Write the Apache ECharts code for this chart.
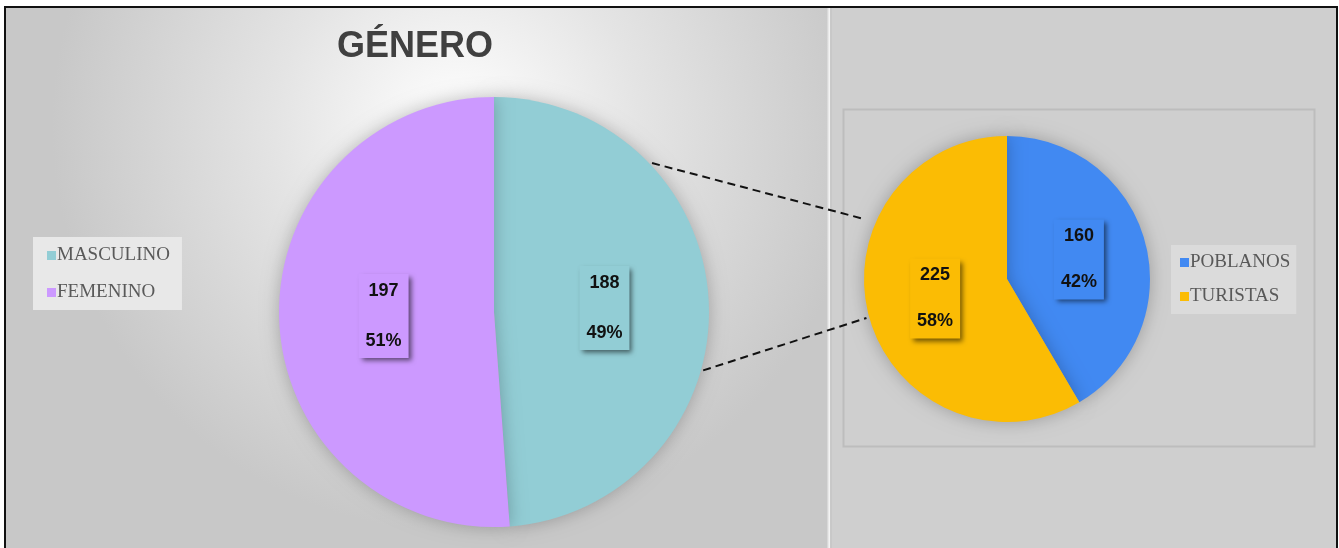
<!DOCTYPE html>
<html>
<head>
<meta charset="utf-8">
<script src="https://cdn.jsdelivr.net/npm/echarts@6/dist/echarts.min.js"></script>
<style>
html,body{margin:0;padding:0;background:#fff;}
#chart{width:1339px;height:548px;}
</style>
</head>
<body>
<div id="chart"></div>
<script>
// ---- data ----
const titleText = 'GÉNERO';
const genderCategories = ['MASCULINO', 'FEMENINO'];
const genderValues = [188, 197];
const genderColors = ['#92cdd5', '#cc99ff'];
const originCategories = ['POBLANOS', 'TURISTAS'];
const originValues = [160, 225];
const originColors = ['#4189f2', '#fbbc04'];

// ---- layout ----
const W = 1339, H = 548;
const leftPie = { cx: 494, cy: 312, r: 215 };
const rightPie = { cx: 1007, cy: 279, r: 143 };
// connector angles (deg, clockwise from 12 o'clock) and radial extents
const connectors = [
  { a1: 46.7, k1: 1.01, a2: 292.8, k2: 1.08 },
  { a1: 105.6, k1: 1.01, a2: 254.5, k2: 1.02 }
];
function pt(p, ang, k) {
  const t = ang * Math.PI / 180;
  return [p.cx + p.r * k * Math.sin(t), p.cy - p.r * k * Math.cos(t)];
}

const chart = echarts.init(document.getElementById('chart'), null, { renderer: 'canvas' });

function mkData(cats, vals, cols) {
  return cats.map((c, i) => ({
    name: c, value: vals[i],
    itemStyle: { color: cols[i] },
    label: { backgroundColor: cols[i] }
  }));
}
function mkLabel(gap) {
  return {
    show: true,
    position: 'inside',
    formatter: p => '{v|' + p.value + '}\n{g|}\n{v|' + Math.round(p.percent) + '%}',
    rich: {
      v: { fontFamily: 'Liberation Sans, Arial, sans-serif', fontWeight: 'bold', fontSize: 18, color: '#111', lineHeight: 34, align: 'center' },
      g: { lineHeight: gap, fontSize: 1 }
    },
    padding: [0, 7, 0, 7],
    shadowColor: 'rgba(0,0,0,0.55)',
    shadowBlur: 5,
    shadowOffsetX: 3,
    shadowOffsetY: 3
  };
}

const graphics = [
  { type: 'rect', z: -10, silent: true, shape: { x: 0, y: 0, width: W, height: H }, style: { fill: '#ffffff' } },
  { type: 'rect', z: -9, silent: true, shape: { x: 5, y: 7, width: 823, height: H - 7 },
    style: { fill: new echarts.graphic.RadialGradient(0.55, 0.22, 0.75, [
      { offset: 0, color: '#ffffff' }, { offset: 0.45, color: '#e4e4e4' }, { offset: 1, color: '#c8c8c8' }
    ]) } },
  { type: 'rect', z: -9, silent: true, shape: { x: 830, y: 7, width: 507, height: H - 7 }, style: { fill: '#cfcfcf' } },
  { type: 'line', z: -8, silent: true, shape: { x1: 828.5, y1: 8, x2: 828.5, y2: H }, style: { stroke: '#e8e8e8', lineWidth: 2 } },
  { type: 'line', z: -8, silent: true, shape: { x1: 831, y1: 8, x2: 831, y2: H }, style: { stroke: '#c2c2c2', lineWidth: 1 } },
  { type: 'rect', z: -7, silent: true, shape: { x: 843.5, y: 109.5, width: 471, height: 337 }, style: { fill: 'rgba(0,0,0,0)', stroke: '#bdbdbd', lineWidth: 2 } },
  { type: 'rect', z: 50, silent: true, shape: { x: 5, y: 7, width: 1332, height: H + 10 }, style: { fill: 'rgba(0,0,0,0)', stroke: '#111', lineWidth: 2 } },
  { type: 'text', z: 20, silent: true, x: 415, y: 29,
    style: { text: titleText, fill: '#404040', font: 'bold 36px "Liberation Sans", Arial, sans-serif', textAlign: 'center' } }
];
connectors.forEach(c => {
  const p1 = pt(leftPie, c.a1, c.k1), p2 = pt(rightPie, c.a2, c.k2);
  graphics.push({ type: 'line', z: 20, silent: true, shape: { x1: p1[0], y1: p1[1], x2: p2[0], y2: p2[1] },
    style: { stroke: '#111', lineWidth: 2, lineDash: [8, 5] } });
});

const legendText = { fontFamily: '"Liberation Serif", "Times New Roman", serif', fontSize: 19, color: '#595959', padding: [0, 0, 0, -4] };

chart.setOption({
  animation: false,
  graphic: graphics,
  legend: [
    { data: genderCategories, orient: 'vertical', left: 33, top: 237, icon: 'rect', itemWidth: 9, itemHeight: 9,
      itemGap: 18, backgroundColor: '#e8e8e8', padding: [9, 12, 8, 14], textStyle: legendText, selectedMode: false },
    { data: originCategories, orient: 'vertical', left: 1171, top: 245, icon: 'rect', itemWidth: 9, itemHeight: 9,
      itemGap: 15, backgroundColor: '#dbdbdb', padding: [8, 6, 8, 9], textStyle: legendText, selectedMode: false }
  ],
  series: [
    { type: 'pie', center: [leftPie.cx, leftPie.cy], radius: leftPie.r, startAngle: 90, clockwise: true,
      itemStyle: { shadowColor: 'rgba(0,0,0,0.25)', shadowBlur: 18 },
      label: mkLabel(16), labelLine: { show: false }, emphasis: { disabled: true },
      data: mkData(genderCategories, genderValues, genderColors) },
    { type: 'pie', center: [rightPie.cx, rightPie.cy], radius: rightPie.r, startAngle: 90, clockwise: true,
      itemStyle: { shadowColor: 'rgba(0,0,0,0.25)', shadowBlur: 18 },
      label: mkLabel(12), labelLine: { show: false }, emphasis: { disabled: true },
      data: mkData(originCategories, originValues, originColors) }
  ]
});
</script>
</body>
</html>
